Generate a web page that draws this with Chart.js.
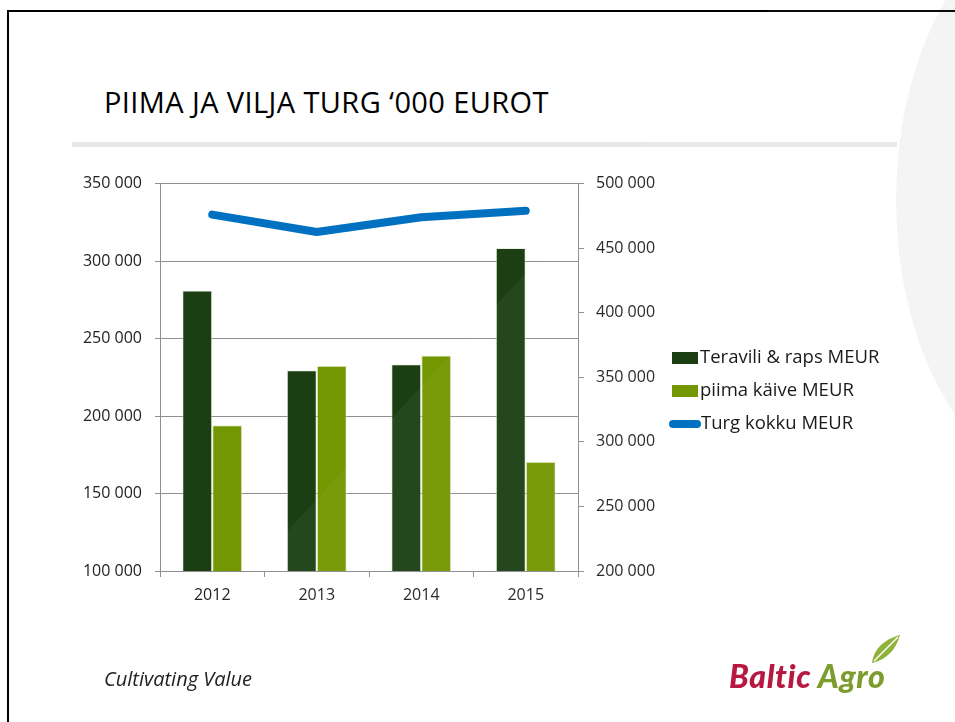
<!DOCTYPE html>
<html>
<head>
<meta charset="utf-8">
<script src="https://cdn.jsdelivr.net/npm/chart.js@4.4.1/dist/chart.umd.min.js"></script>
<style>
  html, body { margin: 0; padding: 0; }
  body {
    width: 955px; height: 722px; position: relative; overflow: hidden;
    background: #ffffff; font-family: 'Open Sans', sans-serif; color: #222;
  }
  .abs { position: absolute; }
  #bgshape {
    left: 896px; top: -90px; width: 360px; height: 580px;
    border-radius: 50%; background: #f4f4f4;
  }
  #frame { left: 7px; top: 10px; right: -10px; bottom: -10px; border-left: 2px solid #000; border-top: 2px solid #000; }
  #title { left: 104px; top: 82px; font-size: 29px; white-space: nowrap; color: #000; letter-spacing: 0.4px; }
  #rule { left: 72px; top: 142px; width: 825px; height: 5px; background: #e8e8e8; }
  #chart { left: 60px; top: 161px; }
  #shade {
    left: 0; top: 0; width: 955px; height: 722px; pointer-events: none;
    background: rgba(255,255,255,0.045);
    clip-path: polygon(111px 722px, 778px 0px, 955px 0px, 955px 722px);
  }
  .lg { left: 669px; font-size: 18.5px; white-space: nowrap; color: #1a1a1a; height: 24px; line-height: 24px; }
  .lg i { display: inline-block; vertical-align: middle; margin-right: 2px; }
  #footer { left: 104px; top: 665px; font-size: 20px; font-style: italic; color: #222; }
  #logo { left: 729px; top: 656px; font-family: 'Lato', sans-serif; font-weight: 900; font-style: italic; font-size: 32px; white-space: nowrap; letter-spacing: 0.6px; }
</style>
</head>
<body>
<div id="bgshape" class="abs"></div>
<div id="frame" class="abs"></div>
<div id="title" class="abs">PIIMA JA VILJA TURG ‘000 EUROT</div>
<div id="rule" class="abs"></div>
<canvas id="chart" class="abs" width="610" height="451"></canvas>
<div id="shade" class="abs"></div>
<div id="legend"></div>
<div id="footer" class="abs">Cultivating Value</div>
<div id="logo" class="abs"><span style="color:#b8173f">Baltic</span> <span style="color:#7c9c2c">Agro</span></div>
<svg class="abs" style="left:868px;top:633px" width="34" height="34" viewBox="0 0 34 34">
  <path d="M4 30 C6 14 18 6 32 2 C28 16 20 26 4 30 Z" fill="#8fb33a"/>
  <path d="M6 28 C14 20 22 12 30 4" stroke="#fff" stroke-width="1.5" fill="none"/>
</svg>

<script>
// values
const years = ['2012', '2013', '2014', '2015'];
const teravili = [281000, 229500, 233500, 308500];
const piima = [194000, 232500, 239000, 170500];
const turgKokku = [476000, 462500, 474000, 479000];

const seriesNames = ['Teravili & raps MEUR', 'piima käive MEUR', 'Turg kokku MEUR'];
const seriesColors = ['#1b3f13', '#739700', '#0070c0'];

const gridGray = '#8e8e8e';
const tickFont = { family: "'Open Sans', sans-serif", size: 16 };

// numbers like "350 000"
const fmt = v => String(v).replace(/\B(?=(\d{3})+(?!\d))/g, ' ');

const ctx = document.getElementById('chart').getContext('2d');
new Chart(ctx, {
    data: {
        labels: years,
        datasets: [
            {
                type: 'line',
                label: seriesNames[2],
                data: turgKokku,
                yAxisID: 'y1',
                borderColor: seriesColors[2],
                borderWidth: 8,
                borderCapStyle: 'round',
                borderJoinStyle: 'round',
                pointRadius: 0,
                tension: 0,
                order: 0,
            },
            {
                type: 'bar',
                label: seriesNames[0],
                data: teravili,
                yAxisID: 'y',
                backgroundColor: seriesColors[0],
                borderColor: 'rgba(225,235,215,0.7)',
                borderWidth: 1,
                barPercentage: 1,
                categoryPercentage: 0.574,
                order: 1,
            },
            {
                type: 'bar',
                label: seriesNames[1],
                data: piima,
                yAxisID: 'y',
                backgroundColor: seriesColors[1],
                borderColor: 'rgba(225,235,200,0.7)',
                borderWidth: 1,
                barPercentage: 1,
                categoryPercentage: 0.574,
                order: 2,
            },
        ],
    },
    options: {
        responsive: false,
        animation: false,
        devicePixelRatio: 1,
        layout: { padding: { top: 10, left: 0, right: 0, bottom: 0 } },
        plugins: {
            legend: { display: false },
            tooltip: { enabled: false },
        },
        scales: {
            x: {
                offset: true,
                grid: { offset: true, drawOnChartArea: false, color: gridGray, tickLength: 6 },
                border: { color: gridGray },
                ticks: { color: '#222', font: tickFont, padding: 9 },
                afterFit: s => { s.height = 41; },
            },
            y: {
                position: 'left',
                min: 100000,
                max: 350000,
                grid: { color: gridGray, tickLength: 5 },
                border: { color: gridGray },
                ticks: { stepSize: 50000, color: '#222', font: tickFont, padding: 13, callback: v => fmt(v) },
                afterFit: s => { s.width = 100; },
            },
            y1: {
                position: 'right',
                min: 200000,
                max: 500000,
                grid: { drawOnChartArea: false, color: gridGray, tickLength: 6 },
                border: { color: gridGray },
                ticks: { stepSize: 50000, color: '#222', font: tickFont, padding: 12, callback: v => fmt(v) },
                afterFit: s => { s.width = 92; },
            },
        },
    },
});

// legend beside the chart
const legendRows = [
    { name: seriesNames[0], color: seriesColors[0], kind: 'box', top: 344 },
    { name: seriesNames[1], color: seriesColors[1], kind: 'box', top: 377 },
    { name: seriesNames[2], color: seriesColors[2], kind: 'line', top: 410 },
];
const legendEl = document.getElementById('legend');
legendRows.forEach(r => {
    const row = document.createElement('div');
    row.className = 'abs lg';
    row.style.top = r.top + 'px';
    const mark = document.createElement('i');
    if (r.kind === 'box') {
        mark.style.cssText = `width:26px;height:12px;background:${r.color};margin-left:3px;`;
    } else {
        mark.style.cssText = `width:32px;height:8px;border-radius:4px;background:${r.color};margin-right:0;`;
    }
    row.appendChild(mark);
    row.appendChild(document.createTextNode(r.name));
    legendEl.appendChild(row);
});
</script>
</body>
</html>
